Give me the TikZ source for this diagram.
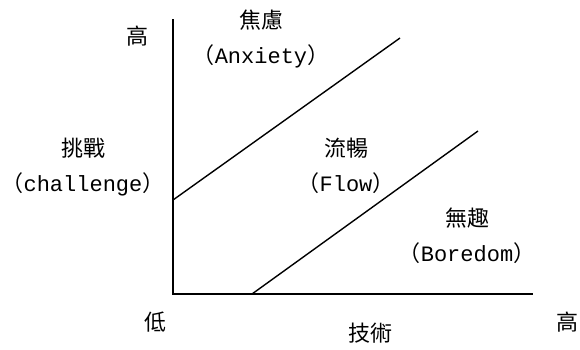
\documentclass[tikz,border=0pt]{standalone}
\usepackage{fontspec}
\setmainfont{Liberation Serif}
\setmonofont{Liberation Mono}
\newfontfamily\cjk{Noto Sans CJK TC}
\usetikzlibrary{positioning}
\newcommand{\enname}[1]{{\cjk （}\texttt{#1}{\cjk ）}}

\begin{document}
\begin{tikzpicture}[
  x=1pt, y=-1pt,
  axis/.style={line width=1.6pt},
  bound/.style={line width=1.4pt},
  zone/.style={align=center, font=\fontsize{22}{35}\selectfont, inner sep=0pt},
  tick/.style={font=\fontsize{22}{26}\selectfont\cjk, inner sep=0pt}
]
\useasboundingbox (0,0) rectangle (580,349);

% axes
\coordinate (origin) at (173,294);
\coordinate (ytop) at (173,19);
\coordinate (xend) at (533,294);
\draw[axis] (ytop) -- (origin) -- (xend);

% channel boundaries
\coordinate (upA) at (173,200);
\coordinate (upB) at (400,38);
\coordinate (lowA) at (252,294);
\coordinate (lowB) at (478,131);
\draw[bound] (upA) -- (upB);
\draw[bound] (lowA) -- (lowB);

% zone labels
\node[zone] (anxiety) at (261,39) {{\cjk 焦慮}\\\enname{Anxiety}};
\node[zone] (flow) at (346,166) {{\cjk 流暢}\\\enname{Flow}};
\node[zone] (boredom) at (467,236) {{\cjk 無趣}\\\enname{Boredom}};
\node[zone] (challenge) at (83,167) {{\cjk 挑戰}\\\enname{challenge}};

% axis ends
\node[tick] (yhigh) at (137,36) {高};
\node[tick] (low) at (155,322) {低};
\node[tick] (skill) at (370,333) {技術};
\node[tick] (xhigh) at (567,322) {高};
\end{tikzpicture}
\end{document}
